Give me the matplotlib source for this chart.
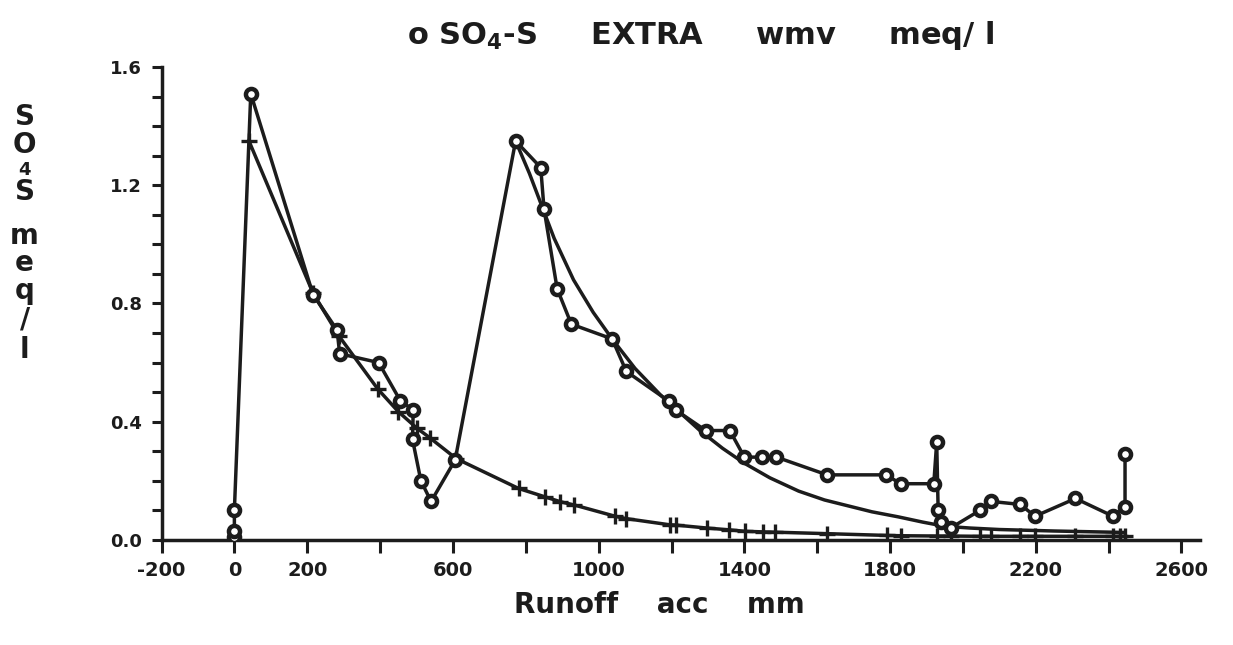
import matplotlib
matplotlib.use("Agg")
import matplotlib.pyplot as plt
import numpy as np

# observed SO4-S (circles), accumulated runoff in mm
obs_x = [0, 0, 0, 45, 216, 282, 289, 396, 456, 491, 489, 512, 540, 606,
         772, 841, 850, 886, 925, 1037, 1076, 1192, 1211, 1294, 1360, 1400,
         1449, 1488, 1627, 1789, 1829, 1920, 1928, 1932, 1939, 1966, 2047,
         2078, 2157, 2198, 2309, 2412, 2445, 2445]
obs_y = [0.01, 0.03, 0.10, 1.51, 0.83, 0.71, 0.63, 0.60, 0.47, 0.44, 0.34,
         0.20, 0.13, 0.27, 1.35, 1.26, 1.12, 0.85, 0.73, 0.68, 0.57, 0.47,
         0.44, 0.37, 0.37, 0.28, 0.28, 0.28, 0.22, 0.22, 0.19, 0.19, 0.33,
         0.10, 0.06, 0.04, 0.10, 0.13, 0.12, 0.08, 0.14, 0.08, 0.11, 0.29]

# model run 1 (crosses)
cross_x = [40, 216, 287, 394, 450, 501, 536, 609, 780, 854, 895, 933, 1045,
           1075, 1195, 1212, 1297, 1358, 1402, 1451, 1484, 1627, 1792, 1829,
           1930, 1966, 2047, 2078, 2157, 2198, 2309, 2412, 2430, 2445]
cross_y = [1.35, 0.835, 0.69, 0.51, 0.434, 0.378, 0.346, 0.275, 0.174, 0.145,
           0.129, 0.118, 0.080, 0.072, 0.051, 0.050, 0.040, 0.034, 0.029,
           0.027, 0.026, 0.021, 0.015, 0.014, 0.013, 0.013, 0.012, 0.012,
           0.012, 0.012, 0.012, 0.012, 0.012, 0.012]

# model run 2 (smooth curve from second peak)
smooth_x = [772, 810, 847, 878, 931, 985, 1037, 1100, 1170, 1278, 1340,
            1399, 1470, 1549, 1620, 1685, 1750, 1822, 1890, 1950, 2020,
            2100, 2250, 2445]
smooth_y = [1.35, 1.24, 1.12, 1.02, 0.88, 0.77, 0.68, 0.58, 0.49, 0.37,
            0.31, 0.26, 0.21, 0.165, 0.135, 0.115, 0.095, 0.078, 0.06,
            0.046, 0.04, 0.035, 0.03, 0.025]

x_ticks = np.arange(-200, 2601, 200)
x_labels = ["-200", "0", "200", "", "600", "", "1000", "", "1400", "",
            "1800", "", "2200", "", "2600"]
y_ticks = np.arange(0, 1.61, 0.1)
y_labels = ["0.0", "", "", "", "0.4", "", "", "", "0.8", "", "", "",
            "1.2", "", "", "", "1.6"]

matplotlib.rc("font", family="DejaVu Sans", weight="bold")
matplotlib.rcParams["mathtext.fontset"] = "dejavusans"
ink = "#1c1c1c"

fig = plt.figure(figsize=(12.33, 6.45), dpi=100)
ax = fig.add_axes([0.131, 0.163, 0.842, 0.733])

lw = 2.5
ax.plot(obs_x, obs_y, "-", color=ink, lw=lw, marker="o", ms=8,
        mfc="white", mec=ink, mew=3.2, zorder=3)
ax.plot(cross_x, cross_y, "-", color=ink, lw=lw, marker="+", ms=11,
        mew=2.4, zorder=2)
ax.plot(smooth_x, smooth_y, "-", color=ink, lw=lw, zorder=2)

ax.set_xlim(-200, 2650)
ax.set_ylim(0, 1.6)
for side in ["top", "right"]:
    ax.spines[side].set_visible(False)
for side in ["left", "bottom"]:
    ax.spines[side].set_linewidth(2.5)
    ax.spines[side].set_color(ink)
ax.spines["left"].set_bounds(0, 1.6)

ax.set_xticks(x_ticks)
ax.set_xticklabels(x_labels)
ax.set_yticks(y_ticks)
ax.set_yticklabels(y_labels)
ax.tick_params(axis="x", direction="out", length=9, width=2.2, pad=6,
               labelsize=14, colors=ink)
ax.tick_params(axis="y", direction="out", length=7, width=2.2, pad=7,
               labelsize=13, colors=ink)
for lab in ax.get_xticklabels() + ax.get_yticklabels():
    lab.set_fontweight("bold")

fig.text(0.568, 0.945, r"o SO$_\mathbf{4}$-S     EXTRA     wmv     meq/ l",
         ha="center", va="center", fontsize=22, fontweight="bold",
         color=ink)
fig.text(0.535, 0.062, "Runoff    acc    mm", ha="center", va="center",
         fontsize=20, fontweight="bold", color=ink)

# stacked y label
ylab_chars = ["S", "O", "4", "S", "m", "e", "q", "/", "l"]
ylab_pos = [117, 145, 170, 192, 236, 263, 291, 320, 350]
ylab_size = [20, 20, 13, 20, 20, 20, 20, 20, 20]
for ch, py, fs in zip(ylab_chars, ylab_pos, ylab_size):
    fig.text(0.02, 1 - py / 645, ch, ha="center", va="center", fontsize=fs,
             fontweight="bold", color=ink)

plt.savefig("out.png", dpi=100)
